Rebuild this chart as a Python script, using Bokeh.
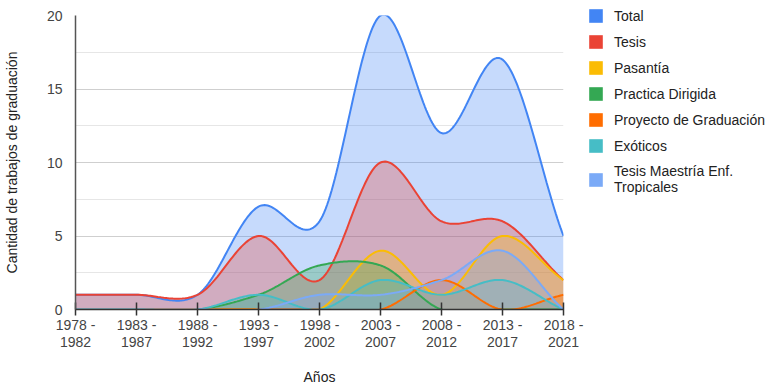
import numpy as np
from bokeh.plotting import figure
from bokeh.models import Range1d, FixedTicker, Legend, LegendItem, ColumnDataSource
from bokeh.embed import file_html
from bokeh.resources import INLINE

periods = ["1978 -\n1982", "1983 -\n1987", "1988 -\n1992", "1993 -\n1997", "1998 -\n2002",
           "2003 -\n2007", "2008 -\n2012", "2013 -\n2017", "2018 -\n2021"]

total = [1, 1, 1, 7, 6, 20, 12, 17, 5]
tesis = [1, 1, 1, 5, 2, 10, 6, 6, 2]
pasantia = [0, 0, 0, 0, 0, 4, 1, 5, 2]
practica = [0, 0, 0, 1, 3, 3, 0, 0, 0]
proyecto = [0, 0, 0, 0, 0, 0, 2, 0, 1]
exoticos = [0, 0, 0, 1, 0, 2, 1, 2, 0]
maestria = [0, 0, 0, 0, 1, 1, 2, 4, 0]

names = ["Total", "Tesis", "Pasantía", "Practica Dirigida", "Proyecto de Graduación",
         "Exóticos", "Tesis Maestría Enf.\nTropicales"]
series = [total, tesis, pasantia, practica, proyecto, exoticos, maestria]
colors = ["#4285F4", "#EA4335", "#FBBC04", "#34A853", "#FF6D01", "#46BDC6", "#7BAAF7"]

y_ticks = [0, 5, 10, 15, 20]
y_minor = [2.5, 7.5, 12.5, 17.5]


def smooth(vals, k=0.45, n=40):
    """Cubic Hermite (cardinal) curve through the category values, for drawing."""
    y = np.asarray(vals, dtype=float)
    N = len(y)
    m = np.zeros(N)
    m[1:-1] = k * (y[2:] - y[:-2])
    m[0] = 2 * k * (y[1] - y[0])
    m[-1] = 2 * k * (y[-1] - y[-2])
    xs, ys = [], []
    t = np.linspace(0, 1, n, endpoint=False)
    h00 = 2 * t**3 - 3 * t**2 + 1
    h10 = t**3 - 2 * t**2 + t
    h01 = -2 * t**3 + 3 * t**2
    h11 = t**3 - t**2
    for i in range(N - 1):
        xs.append(i + t)
        ys.append(h00 * y[i] + h10 * m[i] + h01 * y[i + 1] + h11 * m[i + 1])
    xs.append(np.array([N - 1.0]))
    ys.append(np.array([y[-1]]))
    return np.concatenate(xs), np.concatenate(ys)


p = figure(frame_width=488, frame_height=294, output_backend="svg", toolbar_location=None,
           x_range=Range1d(0, len(periods) - 1), y_range=Range1d(0, 20),
           min_border_left=67, min_border_right=199, min_border_top=15, min_border_bottom=60)
p.outline_line_color = None
p.background_fill_color = "white"

for vals, c in zip(series, colors):
    xs, ys = smooth(vals)
    src = ColumnDataSource(dict(x=xs, y=ys, y0=np.zeros_like(xs)))
    p.varea(x="x", y1="y0", y2="y", source=src, fill_color=c, fill_alpha=0.3)
for vals, c in zip(series, colors):
    xs, ys = smooth(vals)
    src = ColumnDataSource(dict(x=xs, y=ys))
    p.line(x="x", y="y", source=src, line_color=c, line_width=2)

# legend swatches (renderers with no drawable data, used only for the legend)
items = []
for name, c in zip(names, colors):
    r = p.quad(left=[np.nan], right=[np.nan], top=[np.nan], bottom=[np.nan],
               fill_color=c, line_color=None)
    items.append(LegendItem(label=name, renderers=[r]))

legend = Legend(items=items, location=(24, 114), orientation="vertical",
                glyph_width=17, glyph_height=17, label_height=17, spacing=9,
                label_standoff=10, padding=0, margin=0,
                border_line_color=None, background_fill_alpha=0,
                label_text_font="Liberation Sans", label_text_font_size="14px",
                label_text_color="#222222", label_text_line_height=1.15)
p.add_layout(legend, "right")

# axes
p.xaxis.ticker = FixedTicker(ticks=list(range(len(periods))))
p.xaxis.major_label_overrides = {i: lab for i, lab in enumerate(periods)}
p.xaxis.axis_label = "Años"
p.xaxis.axis_label_standoff = 16
p.xaxis.major_tick_in = 7
p.xaxis.major_tick_out = 6
p.xaxis.minor_tick_line_color = None
p.xaxis.major_tick_line_color = "#333333"
p.xaxis.major_tick_line_width = 1.5
p.xaxis.axis_line_color = "#333333"
p.xaxis.axis_line_width = 1.5
p.xaxis.major_label_standoff = 1
p.xaxis.major_label_text_line_height = 1.1

p.yaxis.ticker = FixedTicker(ticks=y_ticks, minor_ticks=y_minor)
p.yaxis.axis_label = "Cantidad de trabajos de graduación"
p.yaxis.axis_label_standoff = 24
p.yaxis.major_label_standoff = 7
p.yaxis.major_tick_line_color = None
p.yaxis.minor_tick_line_color = None
p.yaxis.axis_line_color = "#555555"
p.yaxis.axis_line_width = 1.5

for ax in (p.xaxis, p.yaxis):
    ax.major_label_text_font = "Liberation Sans"
    ax.major_label_text_font_size = "14px"
    ax.major_label_text_color = "#444444"
    ax.axis_label_text_font = "Liberation Sans"
    ax.axis_label_text_font_size = "14px"
    ax.axis_label_text_font_style = "normal"
    ax.axis_label_text_color = "#222222"

p.xgrid.grid_line_color = None
p.ygrid.grid_line_color = "#cfcfcf"
p.ygrid.minor_grid_line_color = "#e6e6e6"

open("out.html", "w").write(file_html(p, INLINE))
